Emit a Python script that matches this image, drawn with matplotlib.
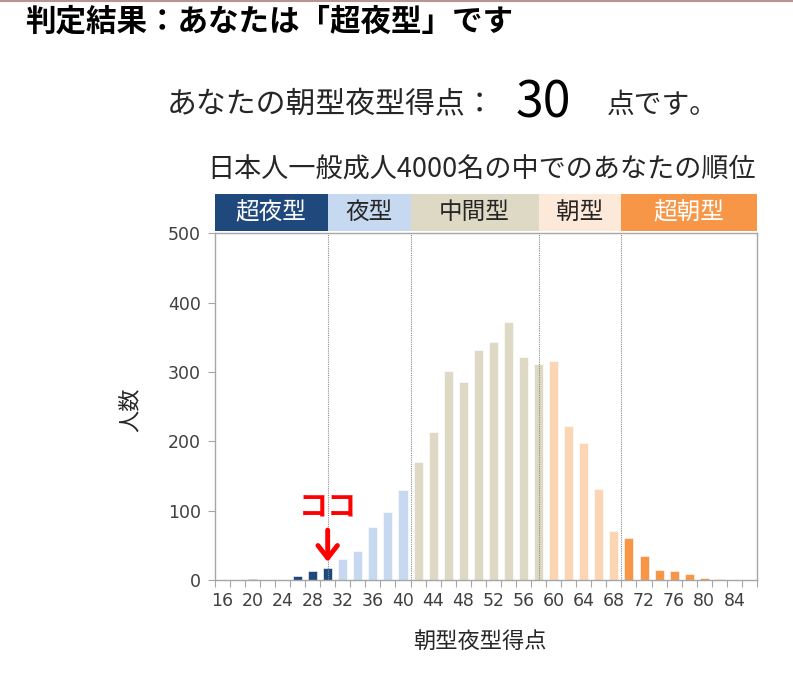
import matplotlib
matplotlib.use('Agg')
import matplotlib.pyplot as plt
from matplotlib.patches import Rectangle
from matplotlib.lines import Line2D

plt.rcParams['font.family'] = ['Noto Sans CJK JP', 'DejaVu Sans']

# ---- data ----
scores = [16, 18, 20, 22, 24, 26, 28, 30, 32, 34, 36, 38, 40, 42, 44, 46, 48, 50,
          52, 54, 56, 58, 60, 62, 64, 66, 68, 70, 72, 74, 76, 78, 80, 82, 84, 86]
counts = [0, 0, 2, 0, 0, 6, 13, 17, 30, 42, 76, 98, 130, 170, 213, 302, 286, 332,
          343, 372, 321, 311, 316, 222, 197, 131, 70, 60, 35, 14, 13, 8, 3, 2, 0, 0]
tick_labels = [16, 20, 24, 28, 32, 36, 40, 44, 48, 52, 56, 60, 64, 68, 72, 76, 80, 84]

type_names = ['超夜型', '夜型', '中間型', '朝型', '超朝型']
type_bounds = [15, 30, 41, 58, 69, 87]
bar_colors = ['#1F497D', '#C6D9F1', '#DDD9C4', '#FCD5B5', '#F79646']
box_colors = ['#1F497D', '#C6D9F1', '#DDD9C4', '#FDE9D9', '#F79646']
box_text_colors = ['white', '#262626', '#262626', '#262626', 'white']

my_score = 30
my_count = counts[scores.index(my_score)]

# ---- figure ----
W, H = 793, 682
fig = plt.figure(figsize=(W / 100, H / 100), dpi=100)
ax = fig.add_axes([214.7 / W, 102 / H, 542.3 / W, 346.7 / H])


def fx(px):
    return px / W


def fy(py):
    return 1 - py / H


def type_of(s):
    for i in range(len(type_names)):
        if s <= type_bounds[i + 1]:
            return i
    return len(type_names) - 1


colors = [bar_colors[type_of(s)] for s in scores]
ax.bar(scores, counts, width=1.2, color=colors, edgecolor='white', linewidth=0.4, zorder=2)

ax.set_xlim(15, 87)
ax.set_ylim(0, 500)

# ticks: marks between categories, labels every other category
ax.set_xticks(list(range(15, 88, 2)))
ax.set_xticklabels([])
ax.set_xticks(tick_labels, labels=[str(t) for t in tick_labels], minor=True)
ax.tick_params(axis='x', which='major', length=5, direction='out', color='#A6A6A6')
ax.tick_params(axis='x', which='minor', length=0, pad=9, labelsize=12.5, labelcolor='#404040')
ax.set_yticks([0, 100, 200, 300, 400, 500])
ax.tick_params(axis='y', length=5, direction='out', color='#A6A6A6', labelsize=12.5,
               labelcolor='#404040', pad=5)
for lab in ax.get_xticklabels(minor=True) + ax.get_yticklabels():
    lab.set_fontfamily('DejaVu Sans')
for sp in ax.spines.values():
    sp.set_color('#A6A6A6')
    sp.set_linewidth(1)

# divider lines
for b in type_bounds[1:-1]:
    ax.axvline(b, color='#8C8C8C', linestyle=(0, (1, 1)), linewidth=0.8, zorder=3)

# category header boxes
tr = ax.get_xaxis_transform()
for i, name in enumerate(type_names):
    x0, x1 = type_bounds[i], type_bounds[i + 1]
    ax.add_patch(Rectangle((x0, 1.0066), x1 - x0, 0.106, transform=tr,
                           facecolor=box_colors[i], edgecolor='none', clip_on=False))
    ax.text((x0 + x1) / 2, 1.0066 + 0.053, name, transform=tr, ha='center', va='center',
            fontsize=17, color=box_text_colors[i])

# marker for your score
ax.annotate('', xy=(my_score, my_count + 5), xytext=(my_score, 76),
            arrowprops=dict(arrowstyle='->, head_length=0.9, head_width=0.7',
                            color='#FF0000', lw=3.5), zorder=4)
ax.text(my_score + 0.1, 104, 'ココ', color='#FF0000', fontsize=21, fontweight='bold',
        ha='center', va='center')

# axis labels
fig.text(fx(130), fy(410), '人数', rotation=90, ha='center', va='center', fontsize=16,
         color='#262626')
fig.text(fx(480), fy(641), '朝型夜型得点', ha='center', va='center', fontsize=16,
         color='#262626')

# headings
fig.text(fx(482), fy(170), '日本人一般成人4000名の中でのあなたの順位', ha='center',
         va='center', fontsize=19.5, color='#262626')
fig.text(fx(25), fy(22), '判定結果：あなたは「超夜型」です', ha='left', va='center',
         fontsize=22, fontweight='bold', color='black')
fig.text(fx(167), fy(105), 'あなたの朝型夜型得点：', ha='left', va='center',
         fontsize=21.5, color='#262626')
fig.text(fx(543), fy(103), str(my_score), ha='center', va='center', fontsize=36,
         color='black')
fig.text(fx(607), fy(105), '点です。', ha='left', va='center', fontsize=20,
         color='#262626')

fig.add_artist(Line2D([0, 1], [0.998, 0.998], color='#B89494', linewidth=1.5))

fig.savefig('out.png', dpi=100)
